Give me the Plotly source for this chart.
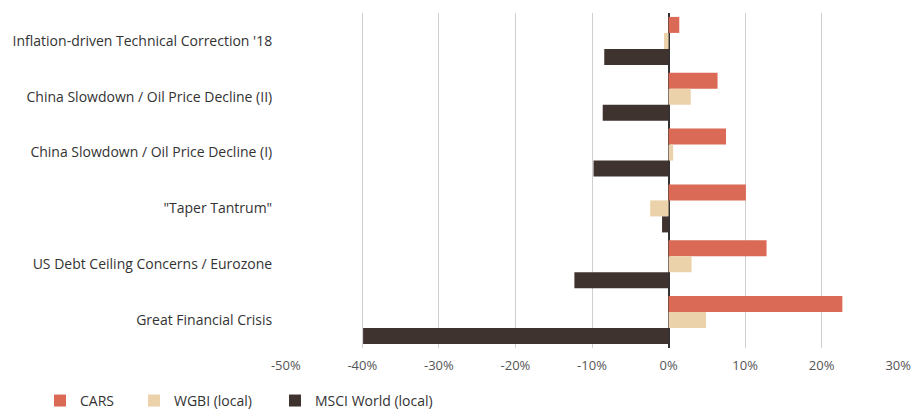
import plotly.graph_objects as go

categories = [
    "Inflation-driven Technical Correction '18",
    "China Slowdown / Oil Price Decline (II)",
    "China Slowdown / Oil Price Decline (I)",
    "\"Taper Tantrum\"",
    "US Debt Ceiling Concerns / Eurozone",
    "Great Financial Crisis",
]
cars = [1.4, 6.4, 7.5, 10.1, 12.8, 22.7]
wgbi = [-0.6, 2.9, 0.6, -2.4, 3.0, 4.9]
msci = [-8.4, -8.6, -9.8, -0.85, -12.3, -39.9]

series = [
    ("CARS", cars, "#DA6A55", "legend"),
    ("WGBI (local)", wgbi, "#EBD2AA", "legend2"),
    ("MSCI World (local)", msci, "#3F3330", "legend3"),
]

tick_vals = [-50, -40, -30, -20, -10, 0, 10, 20, 30]
tick_text = ["-50%", "-40%", "-30%", "-20%", "-10%", "0%", "10%", "20%", "30%"]

fig = go.Figure()
for name, vals, color, leg in series:
    fig.add_trace(go.Bar(
        y=categories, x=vals, name=name, orientation="h",
        marker=dict(color=color, line=dict(width=0)),
        legend=leg,
    ))

FONT = "Open Sans, Noto Sans, sans-serif"
L, R = 285, 13
PW = 912 - L - R


def lx(px):
    return (px - L) / PW


leg_common = dict(orientation="h", xanchor="left", y=-0.158, yanchor="middle",
                  font=dict(size=14, color="#333"), bgcolor="rgba(0,0,0,0)")

fig.update_layout(
    width=912, height=409,
    margin=dict(l=L, r=R, t=13, b=61, autoexpand=False),
    paper_bgcolor="white", plot_bgcolor="white",
    barmode="group", bargap=0.14, bargroupgap=0,
    font=dict(family=FONT, size=13, color="#444"),
    showlegend=True,
    legend=dict(x=lx(40), **leg_common),
    legend2=dict(x=lx(134), **leg_common),
    legend3=dict(x=lx(275), **leg_common),
    xaxis=dict(
        range=[-50.1, 30.1], tickvals=tick_vals, ticktext=tick_text,
        showgrid=True, gridcolor="#CFCFCF", gridwidth=1,
        zeroline=True, zerolinecolor="#333333", zerolinewidth=1.5,
        ticks="outside", ticklen=5, tickcolor="rgba(0,0,0,0)",
        tickfont=dict(size=13, color="#555"), fixedrange=True,
        ticklabeloverflow="allow",
    ),
    yaxis=dict(
        autorange="reversed", showgrid=False,
        tickfont=dict(size=14, color="#333"),
        ticks="outside", ticklen=9, tickcolor="rgba(0,0,0,0)",
        fixedrange=True,
    ),
)

fig.write_html("out.html")
